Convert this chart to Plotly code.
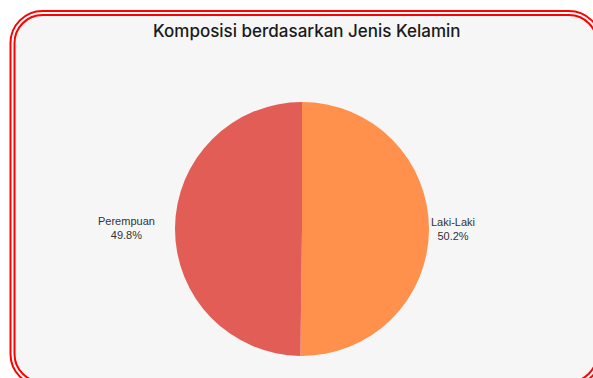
import plotly.graph_objects as go

W, H = 593, 378

labels = ["Laki-Laki", "Perempuan"]
values = [50.2, 49.8]
colors = ["#FF914D", "#E15D55"]
title_text = "Komposisi berdasarkan Jenis Kelamin"


def px(x, y):
    return x / W, 1 - y / H


def rounded_rect_path(x0, y0, x1, y1, r):
    k = 0.5523 * r
    def P(x, y):
        X, Y = px(x, y)
        return f"{X:.5f},{Y:.5f}"
    d = f"M {P(x0 + r, y0)} L {P(x1 - r, y0)} "
    d += f"C {P(x1 - r + k, y0)} {P(x1, y0 + r - k)} {P(x1, y0 + r)} "
    d += f"L {P(x1, y1 - r)} "
    d += f"C {P(x1, y1 - r + k)} {P(x1 - r + k, y1)} {P(x1 - r, y1)} "
    d += f"L {P(x0 + r, y1)} "
    d += f"C {P(x0 + r - k, y1)} {P(x0, y1 - r + k)} {P(x0, y1 - r)} "
    d += f"L {P(x0, y0 + r)} "
    d += f"C {P(x0, y0 + r - k)} {P(x0 + r - k, y0)} {P(x0 + r, y0)} Z"
    return d


# pie geometry (pixels)
cx, cy, R = 302, 229, 127
dx0, dx1 = px(cx - R, 0)[0], px(cx + R, 0)[0]
dy0, dy1 = px(0, cy + R)[1], px(0, cy - R)[1]

fig = go.Figure(
    go.Pie(
        labels=labels,
        values=values,
        marker=dict(colors=colors, line=dict(width=0)),
        sort=False,
        direction="clockwise",
        rotation=0,
        textinfo="none",
        hoverinfo="label+percent",
        showlegend=False,
        domain=dict(x=[dx0, dx1], y=[dy0, dy1]),
    )
)

shapes = [
    dict(type="path", xref="paper", yref="paper", layer="below",
         path=rounded_rect_path(10.5, 11, 601, 386, 32),
         line=dict(color="#FF0000", width=2), fillcolor="white"),
    dict(type="path", xref="paper", yref="paper", layer="below",
         path=rounded_rect_path(14.5, 15, 597, 382, 28),
         line=dict(color="#FF0000", width=2), fillcolor="#F6F6F6"),
]

label_pos = {"Laki-Laki": (453, 229), "Perempuan": (126, 228)}
total = sum(values)
annotations = [
    dict(text=title_text, x=px(307, 0)[0], y=px(0, 31)[1], xref="paper", yref="paper",
         showarrow=False, xanchor="center", yanchor="middle",
         font=dict(family="Inter", size=17, color="#1A1A1A", weight=500)),
]
for lab, v in zip(labels, values):
    lx, ly = label_pos[lab]
    X, Y = px(lx, ly)
    annotations.append(dict(
        text=f"{lab}<br>{v / total * 100:.1f}%", x=X, y=Y, xref="paper", yref="paper",
        showarrow=False, xanchor="center", yanchor="middle", align="center",
        font=dict(family="Liberation Sans, Arial", size=11, color="#333333")))

fig.update_layout(
    width=W, height=H,
    margin=dict(l=0, r=0, t=0, b=0),
    paper_bgcolor="white",
    plot_bgcolor="white",
    shapes=shapes,
    annotations=annotations,
)

fig.write_html("out.html", config={"displayModeBar": False})
